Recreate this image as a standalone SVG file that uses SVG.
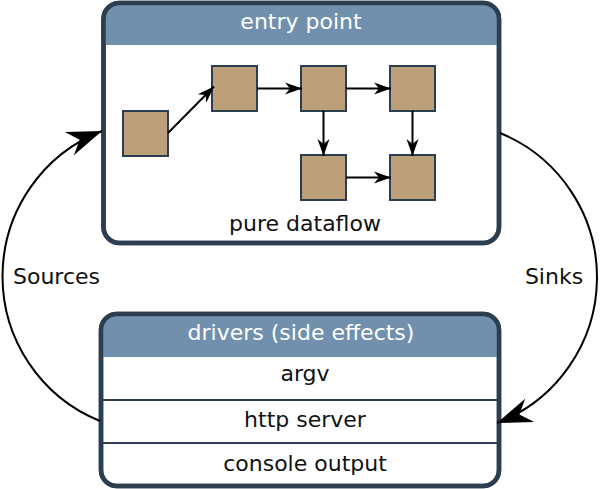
<svg xmlns="http://www.w3.org/2000/svg" width="600" height="489" viewBox="0 0 600 489">
<style>
.box{fill:#ffffff;stroke:#2c3e50;stroke-width:4.5}
.hdr{fill:#7090ae}
.div{stroke:#2c3e50;stroke-width:2}
.sq{fill:#bca07a;stroke:#2c3e50;stroke-width:2}
.t{font-family:"DejaVu Sans","Liberation Sans",sans-serif;font-size:22px;fill:#111111;text-anchor:middle}
.th{font-family:"DejaVu Sans","Liberation Sans",sans-serif;font-size:22px;fill:#ffffff;text-anchor:middle}
.arr{fill:none;stroke:#000000;stroke-width:2}
.big{fill:none;stroke:#000000;stroke-width:2}
</style>
<defs>
<marker id="ah" markerUnits="userSpaceOnUse" markerWidth="20" markerHeight="16" viewBox="-18 -8 19 16" refX="0" refY="0" orient="auto">
<path d="M0,0 L-17,-6 L-12,0 L-17,6 Z" fill="#000000"/>
</marker>
<marker id="ahb" markerUnits="userSpaceOnUse" markerWidth="38" markerHeight="30" viewBox="-37 -15 38 30" refX="0" refY="0" orient="auto">
<path d="M0,0 L-35,-12.5 L-24,0 L-35,12.5 Z" fill="#000000"/>
</marker>
</defs>
<g id="entry-point">
<rect class="box" x="103.5" y="3" width="395.5" height="240" rx="16"/>
<path class="hdr" d="M103.5,45 V19 A16,16 0 0 1 119.5,3 H483 A16,16 0 0 1 499,19 V45 Z"/>
<rect x="103.5" y="3" width="395.5" height="240" rx="16" fill="none" stroke="#2c3e50" stroke-width="4.5"/>
<text class="th" x="301" y="29">entry point</text>
<text class="t" x="305" y="231">pure dataflow</text>
</g>
<g id="sq1"><rect class="sq" x="123" y="111" width="45" height="45"/></g>
<g id="sq2"><rect class="sq" x="212" y="66" width="45" height="45"/></g>
<g id="sq3"><rect class="sq" x="301" y="66" width="45" height="45"/></g>
<g id="sq4"><rect class="sq" x="390" y="66" width="45" height="45"/></g>
<g id="sq5"><rect class="sq" x="301" y="155" width="45" height="45"/></g>
<g id="sq6"><rect class="sq" x="390" y="155" width="45" height="45"/></g>
<g id="drivers">
<rect class="box" x="101" y="314" width="398" height="172" rx="16"/>
<path class="hdr" d="M101,357 V330 A16,16 0 0 1 117,314 H483 A16,16 0 0 1 499,330 V357 Z"/>
<line class="div" x1="101" y1="400" x2="499" y2="400"/>
<line class="div" x1="101" y1="443" x2="499" y2="443"/>
<rect x="101" y="314" width="398" height="172" rx="16" fill="none" stroke="#2c3e50" stroke-width="4.5"/>
<text class="th" x="301" y="340">drivers (side effects)</text>
<text class="t" x="305" y="381">argv</text>
<text class="t" x="305" y="427">http server</text>
<text class="t" x="305" y="471">console output</text>
</g>
<g id="connectors">
<path class="arr" d="M168,133 L214,86.5" marker-end="url(#ah)"/>
<path class="arr" d="M257,88.5 L302,88.5" marker-end="url(#ah)"/>
<path class="arr" d="M346,88.5 L391,88.5" marker-end="url(#ah)"/>
<path class="arr" d="M323.5,111 L323.5,156" marker-end="url(#ah)"/>
<path class="arr" d="M412.5,111 L412.5,156" marker-end="url(#ah)"/>
<path class="arr" d="M346,177.5 L391,177.5" marker-end="url(#ah)"/>
<path class="big" d="M100,421 A156,156 0 0 1 102,131" marker-end="url(#ahb)"/>
<path class="big" d="M500,133 A156,156 0 0 1 497,423" marker-end="url(#ahb)"/>
<text class="t" x="56.5" y="284">Sources</text>
<text class="t" x="554" y="284">Sinks</text>
</g>
</svg>
